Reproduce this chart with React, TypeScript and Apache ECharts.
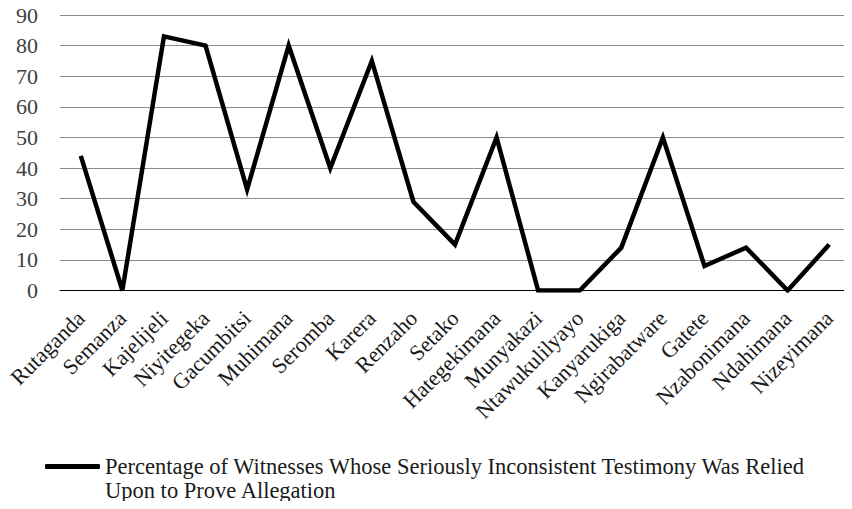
import React, { useEffect, useRef } from "react";
import * as echarts from "echarts";

const categories = [
  "Rutaganda", "Semanza", "Kajelijeli", "Niyitegeka", "Gacumbitsi", "Muhimana",
  "Seromba", "Karera", "Renzaho", "Setako", "Hategekimana", "Munyakazi",
  "Ntawukulilyayo", "Kanyarukiga", "Ngirabatware", "Gatete", "Nzabonimana",
  "Ndahimana", "Nizeyimana",
];
const percentages = [44, 0, 83, 80, 33, 80, 40, 75, 29, 15, 50, 0, 0, 14, 50, 8, 14, 0, 15];
const seriesName =
  "Percentage of Witnesses Whose Seriously Inconsistent Testimony Was Relied Upon to Prove Allegation";
const legendLines = [
  "Percentage of Witnesses Whose Seriously Inconsistent Testimony Was Relied",
  "Upon to Prove Allegation",
];
const yTicks = { min: 0, max: 90, interval: 10 };

const FONT = "'Liberation Serif', 'Times New Roman', serif";

export default function App() {
  const ref = useRef<HTMLDivElement>(null);
  useEffect(() => {
    if (!ref.current) return;
    const chart = echarts.init(ref.current, undefined, { renderer: "svg" });
    chart.setOption({
      animation: false,
      backgroundColor: "#ffffff",
      grid: { left: 60, top: 15, width: 790, height: 275.5, containLabel: false },
      xAxis: {
        type: "category",
        data: categories,
        boundaryGap: true,
        axisLine: { show: true, lineStyle: { color: "#000000", width: 1 } },
        axisTick: { show: false },
        axisLabel: {
          rotate: 45,
          interval: 0,
          margin: 24,
          fontFamily: FONT,
          fontSize: 22,
          color: "#1a1a1a",
        },
      },
      yAxis: {
        type: "value",
        min: yTicks.min,
        max: yTicks.max,
        interval: yTicks.interval,
        axisLine: { show: false },
        axisTick: { show: false },
        splitLine: { lineStyle: { color: "#8c8c8c", width: 1 } },
        axisLabel: { fontFamily: FONT, fontSize: 22, color: "#404040", margin: 22 },
      },
      legend: {
        show: true,
        left: 45,
        top: 430.5,
        padding: 0,
        icon: "roundRect",
        itemWidth: 55,
        itemHeight: 5,
        data: [seriesName],
        formatter: () => "\u00a0\n" + legendLines.join("\n"),
        textStyle: {
          fontFamily: FONT,
          fontSize: 22.5,
          color: "#1a1a1a",
          lineHeight: 24,
        },
        itemStyle: { color: "#000000" },
      },
      series: [
        {
          name: seriesName,
          type: "line",
          data: percentages,
          symbol: "none",
          lineStyle: { color: "#000000", width: 4.5, join: "miter" },
          itemStyle: { color: "#000000" },
        },
      ],
    });
    return () => chart.dispose();
  }, []);
  return <div ref={ref} style={{ width: 852, height: 509, margin: -8 }} />;
}
